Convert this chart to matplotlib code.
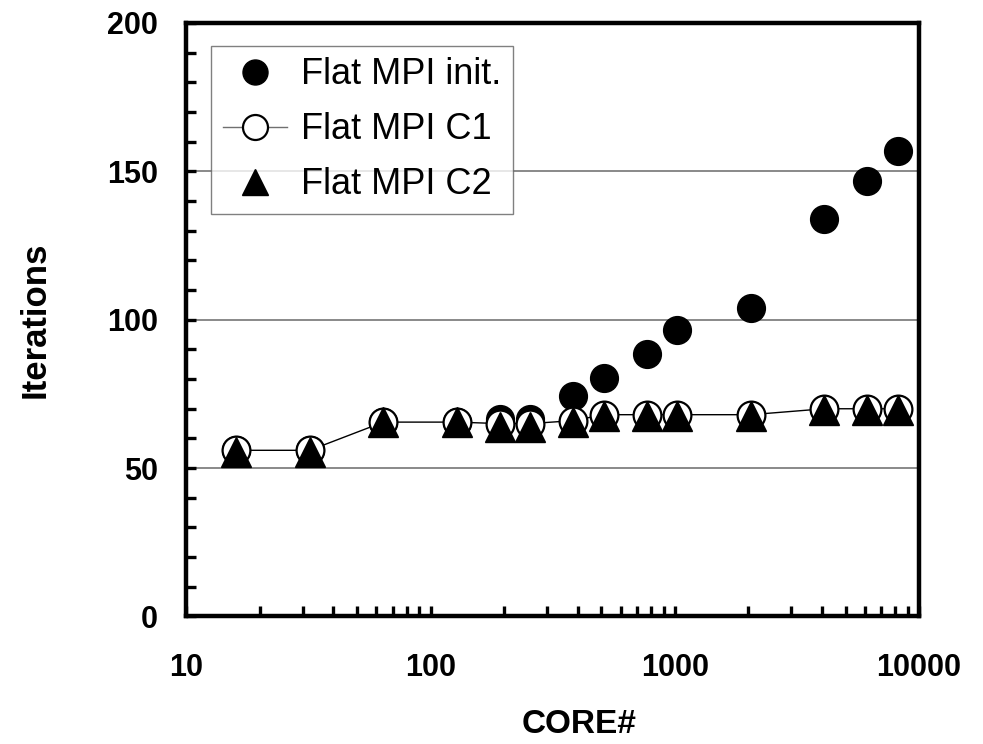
import matplotlib
matplotlib.use("Agg")
import matplotlib.pyplot as plt
from matplotlib.ticker import FixedLocator, MultipleLocator, NullFormatter, FixedFormatter

plt.rcParams['font.family'] = ['Liberation Sans', 'DejaVu Sans']

cores = [16, 32, 64, 128, 192, 256, 384, 512, 768, 1024, 2048, 4096, 6144, 8192]
init_iters = [56, 56, 65.5, 65.5, 66.5, 66.5, 74.3, 80.2, 88.4, 96.5, 104, 134, 146.8, 157]
c1_iters = [56, 56, 65.5, 65.5, 65, 65, 66, 68, 68, 68, 68, 70, 70, 70]
c2_iters = [55.5, 55.5, 65.5, 65.5, 64, 64, 65.5, 67.5, 67.5, 67.5, 67.5, 69.5, 69.5, 69.5]

x_ticks = [10, 100, 1000, 10000]
x_labels = ["10", "100", "1000", "10000"]
y_ticks = [0, 50, 100, 150, 200]

fig = plt.figure(figsize=(9.83, 7.44), dpi=100)
ax = fig.add_axes([0.1897, 0.1714, 0.7452, 0.7977])

ax.plot(cores, init_iters, linestyle='none', marker='o', markersize=20,
        color='black', label='Flat MPI init.', zorder=3)
ax.plot(cores, c1_iters, linestyle='-', linewidth=1.0, marker='o', markersize=20,
        markerfacecolor='white', markeredgecolor='black', markeredgewidth=1.6,
        color='black', label='Flat MPI C1', zorder=4)
ax.plot(cores, c2_iters, linestyle='none', marker='^', markersize=21,
        color='black', label='Flat MPI C2', zorder=5)

ax.set_xscale('log')
ax.set_xlim(10, 10000)
ax.set_ylim(0, 200)
ax.xaxis.set_major_locator(FixedLocator(x_ticks))
ax.xaxis.set_major_formatter(FixedFormatter(x_labels))
ax.xaxis.set_minor_formatter(NullFormatter())
ax.yaxis.set_major_locator(FixedLocator(y_ticks))
ax.yaxis.set_minor_locator(MultipleLocator(10))

for gy in [50, 100, 150]:
    ax.axhline(gy, color='#808080', linewidth=1.3, zorder=1)

for s in ax.spines.values():
    s.set_linewidth(3.2)

ax.tick_params(axis='both', which='both', direction='in', length=7.5, width=2.4,
               labelsize=22)
ax.tick_params(axis='y', which='major', pad=20.5)
ax.tick_params(axis='x', which='major', pad=26)
for lab in ax.get_xticklabels() + ax.get_yticklabels():
    lab.set_fontweight('bold')

ax.set_xlabel('CORE#', fontsize=24, fontweight='bold', labelpad=19)
ax.xaxis.label.set_x(0.536)
ax.set_ylabel('Iterations', fontsize=25, fontweight='bold', labelpad=40)

leg = ax.legend(loc='upper left', bbox_to_anchor=(0.0334, 0.962), fontsize=26,
                frameon=True, fancybox=False, edgecolor='#606060',
                borderpad=0.33, labelspacing=0.55, handlelength=1.78,
                handletextpad=0.38, borderaxespad=0, markerscale=0.9)
leg.get_frame().set_linewidth(1.0)
for h in leg.get_lines():
    h.set_color('#707070')
    h.set_markeredgecolor('black')
leg.get_lines()[0].set_markerfacecolor('black')
leg.get_lines()[2].set_markerfacecolor('black')

fig.savefig('out.png', dpi=100)
